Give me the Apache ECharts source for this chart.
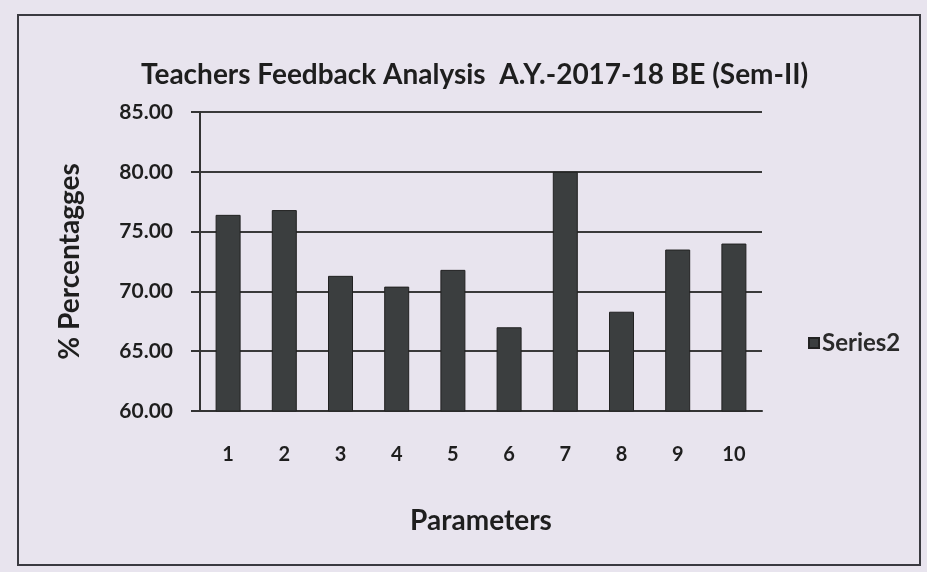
<!DOCTYPE html>
<html><head><meta charset="utf-8">
<script src="https://cdn.jsdelivr.net/npm/echarts@6/dist/echarts.min.js"></script>
<style>html,body{margin:0;padding:0;background:#e8e4ee;}#c{width:927px;height:572px;}</style>
</head><body><div id="c"></div>
<script>
var categories = ['1','2','3','4','5','6','7','8','9','10'];
var series2 = [76.4, 76.8, 71.3, 70.4, 71.8, 67.0, 80.0, 68.3, 73.5, 74.0];
var yMin = 60, yMax = 85, yStep = 5;

var chart = echarts.init(document.getElementById('c'), null, {renderer:'canvas'});
var F = 'Lato, "Liberation Sans", sans-serif';
chart.setOption({
  backgroundColor: '#e8e4ee',
  animation: false,
  graphic: [{
    type: 'rect', shape: {x: 18, y: 15, width: 902, height: 550},
    style: {fill: 'none', stroke: '#3a3a40', lineWidth: 2}, silent: true, z: -1
  }],
  title: {
    text: 'Teachers Feedback Analysis  A.Y.-2017-18 BE (Sem-II)',
    left: 136, top: 56,
    textStyle: {fontFamily: F, fontWeight: 'bold', fontSize: 28, color: '#1e1e1e'}
  },
  legend: {
    data: ['Series2'], left: 803, top: 326, orient: 'vertical',
    icon: 'rect', itemWidth: 10, itemHeight: 10, itemGap: 6,
    textStyle: {fontFamily: F, fontSize: 24, color: '#2a2a2a', fontWeight: 'bold', padding: [0,0,0,-2]}
  },
  grid: {left: 200, right: 165, top: 112, bottom: 161, containLabel: false},
  xAxis: {
    type: 'category', data: categories,
    name: 'Parameters', nameLocation: 'middle', nameGap: 96,
    nameTextStyle: {fontFamily: F, fontWeight: 'bold', fontSize: 28, color: '#1e1e1e'},
    axisLine: {lineStyle: {color: '#333', width: 2}},
    axisTick: {show: false},
    axisLabel: {margin: 34, fontFamily: F, fontWeight: 'bold', fontSize: 20, color: '#1e1e1e'}
  },
  yAxis: {
    type: 'value', min: yMin, max: yMax, interval: yStep,
    name: '% Percentagges', nameLocation: 'middle', nameGap: 116, nameRotate: 90,
    nameTextStyle: {fontFamily: F, fontWeight: 'bold', fontSize: 28, color: '#1e1e1e'},
    axisLine: {show: true, lineStyle: {color: '#333', width: 2}},
    axisTick: {show: true, length: 9, lineStyle: {color: '#333', width: 2}},
    axisLabel: {margin: 27, fontFamily: F, fontWeight: 'bold', fontSize: 21, color: '#1e1e1e',
      formatter: function(v){ return v.toFixed(2); }},
    splitLine: {show: true, lineStyle: {color: '#3a3a3a', width: 2}}
  },
  series: [{
    name: 'Series2', type: 'bar', data: series2, barWidth: 25,
    itemStyle: {color: '#3b3e3f', borderColor: '#222', borderWidth: 1}
  }]
});
</script></body></html>
